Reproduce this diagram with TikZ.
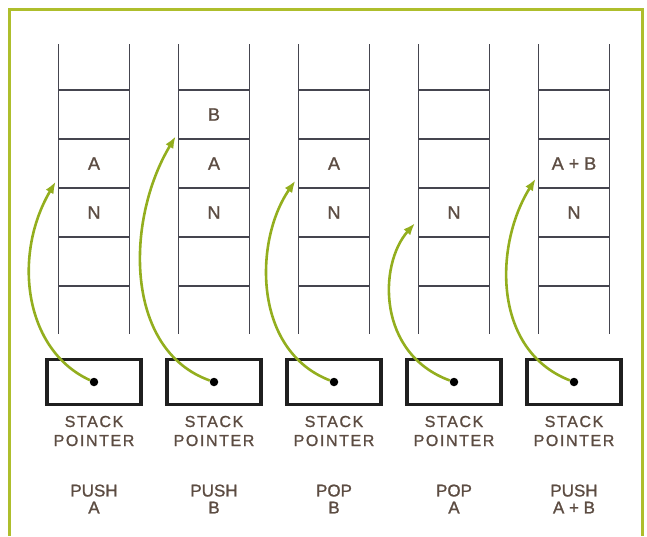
\documentclass[tikz,border=0pt]{standalone}
\usepackage{fontspec}
\setmainfont{Liberation Sans}[FakeBold=1.2]
\newfontfamily\spfont[LetterSpace=10,FakeBold=1.2]{Liberation Sans}
\usetikzlibrary{arrows.meta,positioning,calc}
\definecolor{Frame}{HTML}{AEBE2C}
\definecolor{Arrow}{HTML}{93AE1E}
\definecolor{Rail}{HTML}{45454F}
\definecolor{Ink}{HTML}{5C4C42}

\begin{document}
\begin{tikzpicture}[x=1pt,y=-1pt,
  every node/.style={font=\fontsize{17}{17}\selectfont,text=Ink,align=center},
  rail/.style={draw=Rail,line width=1.8pt},
  cell/.style={minimum width=71pt,minimum height=49pt,inner sep=0pt,font=\fontsize{18}{18}\selectfont},
  spbox/.style={draw=black!88,line width=3.8pt,minimum width=94pt,minimum height=45pt,inner sep=0pt},
  spdot/.style={circle,fill=black,minimum size=8.5pt,inner sep=0pt},
  splabel/.style={font=\spfont\fontsize{16}{19}\selectfont},
  ptr/.style={-{Latex[length=12pt,width=9pt]},draw=Arrow,line width=2.6pt,shorten >=5pt}]
  \useasboundingbox (0,0) rectangle (647,536);
  \draw[Frame,line width=3pt] (9,536) -- (9,9) -- (642,9) -- (642,536);
  \foreach \x [count=\i] in {94,214,334,454,574} {
    \draw[rail] (\x-35.5,44) -- (\x-35.5,334) (\x+35.5,44) -- (\x+35.5,334);
    \foreach \y in {90,139,188,237,286}
      \draw[rail] (\x-35.5,\y) -- (\x+35.5,\y);
    \node[spbox] (sp\i) at (\x,382) {};
    \node[spdot] (dot\i) at (sp\i) {};
    \node[splabel] (spl\i) at (\x,431) {STACK\\POINTER};
  }
  % stack contents
  \node[cell] (a1) at (94,163.5) {A};
  \node[cell] (n1) at (94,212.5) {N};
  \node[cell] (b2) at (214,114.5) {B};
  \node[cell] (a2) at (214,163.5) {A};
  \node[cell] (n2) at (214,212.5) {N};
  \node[cell] (a3) at (334,163.5) {A};
  \node[cell] (n3) at (334,212.5) {N};
  \node[cell] (n4) at (454,212.5) {N};
  \node[cell] (ab5) at (574,163.5) {A + B};
  \node[cell] (n5) at (574,212.5) {N};
  % operations
  \node (op1) at (94,499) {PUSH\\A};
  \node (op2) at (214,499) {PUSH\\B};
  \node (op3) at (334,499) {POP\\B};
  \node (op4) at (454,499) {POP\\A};
  \node (op5) at (574,499) {PUSH\\A + B};
  % stack pointer arrows
  \draw[ptr] (dot1) .. controls +(-70,-32) and +(-46,78) .. (a1.201);
  \draw[ptr] (dot2) .. controls +(-90,-32) and +(-53,88) .. (b2.206);
  \draw[ptr] (dot3) .. controls +(-82,-32) and +(-44,63) .. (a3.200);
  \draw[ptr] (dot4) .. controls +(-77,-28) and +(-40,45) .. (n4.191);
  \draw[ptr] (dot5) .. controls +(-82,-32) and +(-44,70) .. (ab5.197);
\end{tikzpicture}
\end{document}
